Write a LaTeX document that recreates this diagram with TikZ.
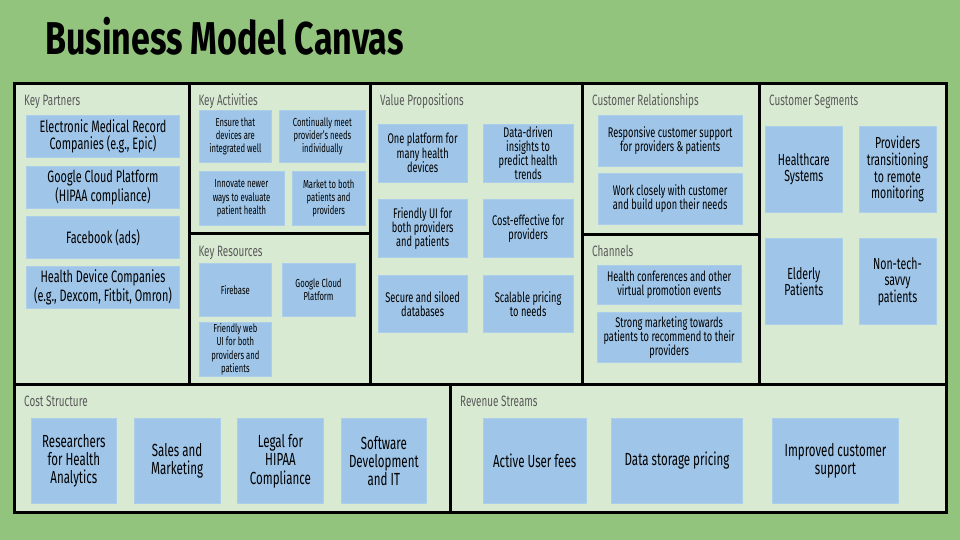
\documentclass[tikz,border=0pt]{standalone}
\usepackage{fontspec}
\setmainfont[FakeStretch=0.66]{Fira Sans}
\newfontfamily\titlefont[FakeStretch=0.74]{Fira Sans}
\definecolor{bgc}{HTML}{93C47D}
\definecolor{panelc}{HTML}{D9EAD3}
\definecolor{boxc}{HTML}{9FC5E8}
\definecolor{hdrc}{HTML}{595959}
\tikzset{
  panelbox/.style={draw=black, line width=3pt, fill=panelc, inner sep=0pt, outer sep=0pt, anchor=north west},
  hdr/.style={anchor=base west, inner sep=0pt, text=hdrc, font=\fontsize{15}{18}\selectfont},
  cardbox/.style={fill=boxc, draw=boxc!85!white, line width=0.6pt, inner sep=0pt, align=center, text=black},
  fXS/.style={font=\fontsize{11.6}{13.3}\selectfont},
  fS/.style={font=\fontsize{14}{14.2}\selectfont},
  fM/.style={font=\fontsize{16}{16.7}\selectfont},
  fL/.style={font=\fontsize{16.5}{17.3}\selectfont},
  fXL/.style={font=\fontsize{17.5}{18.3}\selectfont},
}
\newcommand\Panel[5]{\node[panelbox, minimum width={#4-#2}, minimum height={#5-#3}] (#1) at (#2,#3) {};}
\newcommand\Card[7]{\node[cardbox, #7, minimum width={#4-#2}, minimum height={#5-#3}] (#1) at ({(#2+#4)/2},{(#3+#5)/2}) {#6};}
\begin{document}
\begin{tikzpicture}[x=1pt, y=-1pt]
\fill[bgc] (0,0) rectangle (960,540);
\useasboundingbox (0,0) rectangle (960,540);
\node[anchor=base west, inner sep=0pt, font=\titlefont\fontsize{46}{50}\selectfont\bfseries] (title) at (45,55) {Business Model Canvas};
% panels
\Panel{kp}{14}{84}{189.5}{384}
\Panel{ka}{189.5}{84}{370}{233.5}
\Panel{kr}{189.5}{233.5}{370}{384}
\Panel{vp}{370}{84}{582}{384}
\Panel{cr}{582}{84}{759}{234}
\Panel{ch}{582}{234}{759}{384}
\Panel{cs}{759}{84}{946}{384}
\Panel{cost}{14}{384}{450.5}{512.5}
\Panel{rev}{450.5}{384}{946}{512.5}
% headers
\node[hdr] (hkp) at (24,106) {Key Partners};
\node[hdr] (hka) at (198.3,106) {Key Activities};
\node[hdr] (hkr) at (198.3,256) {Key Resources};
\node[hdr] (hvp) at (380,106) {Value Propositions};
\node[hdr] (hcr) at (592,106) {Customer Relationships};
\node[hdr] (hch) at (592,256) {Channels};
\node[hdr] (hcs) at (769,106) {Customer Segments};
\node[hdr] (hcost) at (24,406.7) {Cost Structure};
\node[hdr] (hrev) at (460,406.7) {Revenue Streams};
% key partners
\Card{kp1}{26.3}{115}{179.7}{157.7}{Electronic Medical Record\\Companies (e.g., Epic)}{fL}
\Card{kp2}{26.3}{166.3}{179.7}{208.7}{Google Cloud Platform\\(HIPAA compliance)}{fL}
\Card{kp3}{26.3}{216}{179.7}{258.7}{Facebook (ads)}{fL}
\Card{kp4}{26.3}{266}{179.7}{308.3}{Health Device Companies\\(e.g., Dexcom, Fitbit, Omron)}{fL}
% key activities
\Card{ka1}{199}{110}{271.7}{162.7}{Ensure that\\devices are\\integrated well}{fXS}
\Card{ka2}{279.7}{110}{365}{162.7}{Continually meet\\provider's needs\\individually}{fXS}
\Card{ka3}{199}{171.7}{284}{225}{Innovate newer\\ways to evaluate\\patient health}{fXS}
\Card{ka4}{292.3}{171.7}{365}{225}{Market to both\\patients and\\providers}{fXS}
% key resources
\Card{kr1}{199}{263.3}{271.7}{316.7}{Firebase}{fXS}
\Card{kr2}{282}{263.3}{355}{316.7}{Google Cloud\\Platform}{fXS}
\Card{kr3}{199}{322.7}{271.7}{376}{Friendly web\\UI for both\\providers and\\patients}{fXS}
% value propositions
\Card{vp1}{378}{124}{467.3}{182}{One platform for\\many health\\devices}{fS}
\Card{vp2}{483.3}{124}{573}{182}{Data-driven\\insights to\\predict health\\trends}{fS}
\Card{vp3}{378}{199.3}{467.3}{257.3}{Friendly UI for\\both providers\\and patients}{fS}
\Card{vp4}{483.3}{199.3}{573}{257.3}{Cost-effective for\\providers}{fS}
\Card{vp5}{378}{275}{467.3}{332.7}{Secure and siloed\\databases}{fS}
\Card{vp6}{483.3}{275}{573}{332.7}{Scalable pricing\\to needs}{fS}
% customer relationships
\Card{cr1}{598}{115}{742.3}{166}{Responsive customer support\\for providers \& patients}{fS}
\Card{cr2}{598}{173.3}{742.3}{224}{Work closely with customer\\and build upon their needs}{fS}
% channels
\Card{ch1}{597}{265}{741.3}{304}{Health conferences and other\\virtual promotion events}{fS}
\Card{ch2}{597}{312.7}{741.3}{362}{Strong marketing towards\\patients to recommend to their\\providers}{fS}
% customer segments
\Card{cs1}{765}{126}{842.7}{212.3}{Healthcare\\Systems}{fM}
\Card{cs2}{859}{126}{936}{212.3}{Providers\\transitioning\\to remote\\monitoring}{fM}
\Card{cs3}{765}{238.3}{842.7}{324.7}{Elderly\\Patients}{fM}
\Card{cs4}{859}{238.3}{936}{324.7}{Non-tech-\\savvy\\patients}{fM}
% cost structure
\Card{co1}{31}{418.3}{116.7}{503.7}{Researchers\\for Health\\Analytics}{fXL}
\Card{co2}{134.3}{418.3}{220}{503.7}{Sales and\\Marketing}{fXL}
\Card{co3}{237.7}{418.3}{323.3}{503.7}{Legal for\\HIPAA\\Compliance}{fXL}
\Card{co4}{341}{418.3}{426.7}{503.7}{Software\\Development\\and IT}{fXL}
% revenue streams
\Card{rv1}{483.3}{418.3}{586}{503.7}{Active User fees}{fXL}
\Card{rv2}{611.7}{418.3}{742.3}{503.7}{Data storage pricing}{fXL}
\Card{rv3}{772.7}{418.3}{898.3}{503.7}{Improved customer\\support}{fXL}
\end{tikzpicture}
\end{document}
